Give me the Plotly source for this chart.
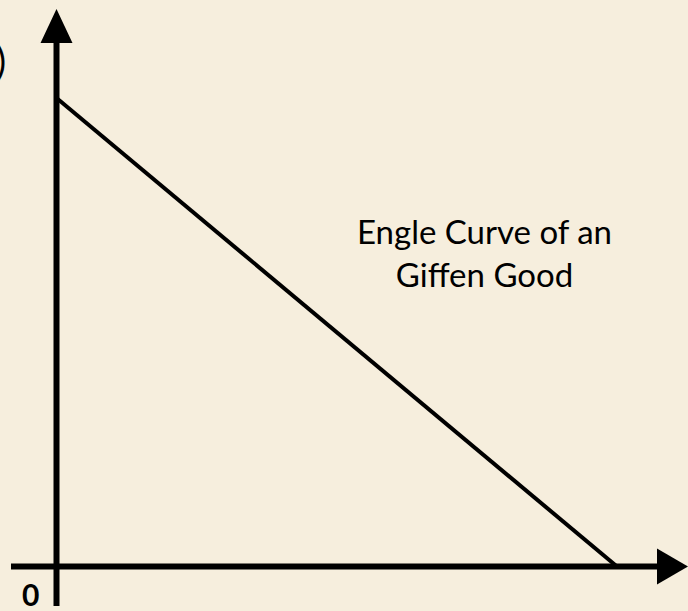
import plotly.graph_objects as go

# Data: Engel curve of a Giffen good (income vs quantity)
income = [0.0, 10.0]
quantity = [8.4, 0.0]
curve_label = "Engle Curve of an<br>Giffen Good"
origin_label = "0"
cut_label = ")"

W, H = 688, 611
BG = "#F6EEDD"

# pixel layout of origin and curve extent
ox, oy = 56.5, 566.5
x_end_px, y_top_px = 617.0, 98.0
sx = (x_end_px - ox) / (income[1] - income[0])
sy = (oy - y_top_px) / (quantity[0] - quantity[1])
x_range = [-ox / sx, (W - ox) / sx]
y_range = [-(H - oy) / sy, oy / sy]

def px(x):
    return x / W

def py(y):
    return 1 - y / H

fig = go.Figure()
fig.add_trace(go.Scatter(x=income, y=quantity, mode="lines",
                         line=dict(color="black", width=4),
                         hoverinfo="skip", showlegend=False))

shapes = [
    # y axis
    dict(type="line", xref="paper", yref="paper", x0=px(ox), x1=px(ox), y0=py(606), y1=py(42),
         line=dict(color="black", width=6)),
    # x axis
    dict(type="line", xref="paper", yref="paper", x0=px(11), x1=px(658), y0=py(oy), y1=py(oy),
         line=dict(color="black", width=6)),
    # y arrow head
    dict(type="path", xref="paper", yref="paper",
         path=f"M {px(ox-16)} {py(43)} L {px(ox+16)} {py(43)} L {px(ox)} {py(9)} Z",
         fillcolor="black", line=dict(width=0)),
    # x arrow head
    dict(type="path", xref="paper", yref="paper",
         path=f"M {px(657)} {py(oy-18)} L {px(657)} {py(oy+18)} L {px(688)} {py(oy)} Z",
         fillcolor="black", line=dict(width=0)),
]

annotations = [
    dict(text=curve_label, xref="paper", yref="paper", x=px(484), y=py(252),
         xanchor="center", yanchor="middle", showarrow=False, align="center",
         font=dict(family="Lato", size=33, color="black")),
    dict(text=origin_label, xref="paper", yref="paper", x=px(31), y=py(594),
         xanchor="center", yanchor="middle", showarrow=False,
         font=dict(family="Lato", size=30, color="black", weight="bold")),
    dict(text=cut_label, xref="paper", yref="paper", x=px(8), y=py(60),
         xanchor="right", yanchor="middle", showarrow=False,
         font=dict(family="Lato", size=38, color="black")),
]

fig.update_layout(
    width=W, height=H, autosize=False,
    margin=dict(l=0, r=0, t=0, b=0),
    paper_bgcolor=BG, plot_bgcolor=BG,
    xaxis=dict(range=x_range, visible=False, fixedrange=True),
    yaxis=dict(range=y_range, visible=False, fixedrange=True),
    shapes=shapes, annotations=annotations,
)

fig.write_html("out.html", config={"displayModeBar": False},
               post_script="document.body.style.margin='0';document.body.style.padding='0';document.body.style.overflow='hidden';")
